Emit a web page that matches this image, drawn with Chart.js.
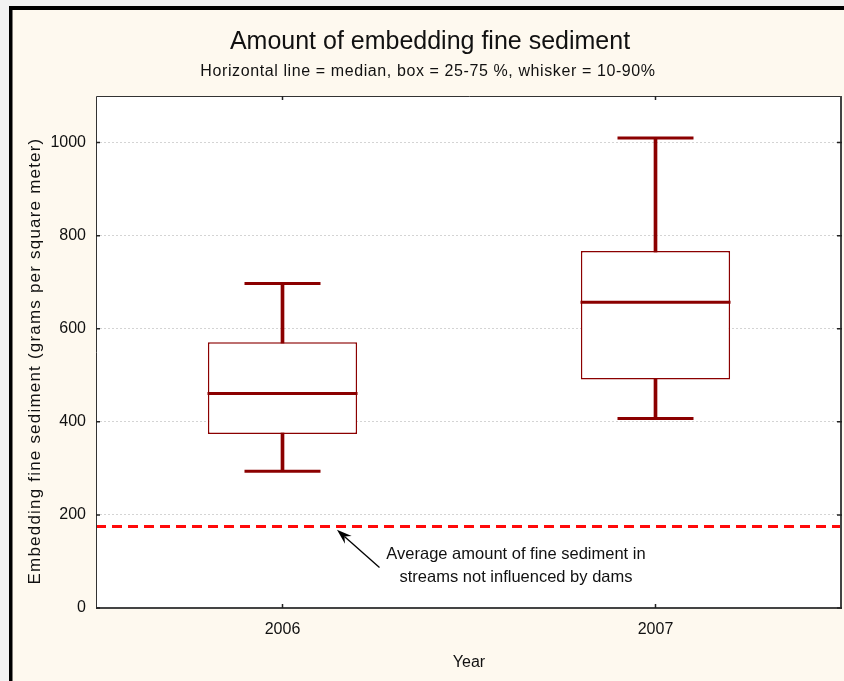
<!DOCTYPE html>
<html>
<head>
<meta charset="utf-8">
<script src="https://cdn.jsdelivr.net/npm/chart.js@4.4.1/dist/chart.umd.min.js"></script>
<style>
  html, body { margin: 0; padding: 0; background: #fff; }
  #wrap { width: 844px; height: 681px; }
</style>
</head>
<body>
<div id="wrap"><canvas id="chart" width="844" height="681"></canvas></div>
<script>
// box plot values
const years = ["2006", "2007"];
const p10 = [294, 407];
const q25 = [374, 491];
const median = [461, 657];
const q75 = [571, 767];
const p90 = [697, 1010];
const referenceLevel = 175;

const yTicks = [0, 200, 400, 600, 800, 1000];
const yMax = 1100;

const titleText = "Amount of embedding fine sediment";
const subtitleText = "Horizontal line = median, box = 25-75 %, whisker = 10-90%";
const yTitle = "Embedding fine sediment (grams per square meter)";
const xTitle = "Year";
const noteLines = ["Average amount of fine sediment in", "streams not influenced by dams"];

// annotation placement on hidden 0..1 x axis and value y axis
const noteAt = { x: 0.563, y: [114, 66] };
const arrowFrom = { x: 0.380, y: 87 };
const arrowTo = { x: 0.323, y: 168 };

const darkRed = "#8b0000";
const font = "'Liberation Sans', Arial, sans-serif";

Chart.defaults.font.family = font;
Chart.defaults.color = "#111";

const framePlugin = {
    id: "frame",
    beforeDraw(chart) {
        const ctx = chart.ctx, a = chart.chartArea;
        ctx.save();
        ctx.fillStyle = "#f2f2f2";
        ctx.fillRect(0, 0, chart.width, chart.height);
        ctx.fillStyle = "#fef9ef";
        ctx.fillRect(9, 6, chart.width - 9, chart.height - 6);
        ctx.fillStyle = "#000";
        ctx.fillRect(9, 6, chart.width - 9, 4);
        ctx.fillRect(9, 6, 3.5, chart.height - 6);
        ctx.fillStyle = "#fff";
        ctx.fillRect(a.left, a.top, a.right - a.left, a.bottom - a.top);
        ctx.restore();
    },
    afterDraw(chart) {
        const ctx = chart.ctx, a = chart.chartArea;
        const x = chart.scales.x, y = chart.scales.y, x2 = chart.scales.x2;
        ctx.save();

        // plot frame
        ctx.strokeStyle = "#333";
        ctx.lineWidth = 1;
        ctx.beginPath();
        ctx.moveTo(a.left + 0.5, a.bottom);
        ctx.lineTo(a.left + 0.5, a.top + 0.5);
        ctx.lineTo(a.right, a.top + 0.5);
        ctx.stroke();
        ctx.strokeStyle = "#444";
        ctx.lineWidth = 2;
        ctx.beginPath();
        ctx.moveTo(a.left, a.bottom);
        ctx.lineTo(a.right - 1, a.bottom);
        ctx.lineTo(a.right - 1, a.top);
        ctx.stroke();

        // inward ticks
        ctx.strokeStyle = "#222";
        ctx.lineWidth = 1.5;
        ctx.beginPath();
        yTicks.forEach(v => {
            const py = y.getPixelForValue(v);
            ctx.moveTo(a.left, py); ctx.lineTo(a.left + 4, py);
            ctx.moveTo(a.right - 5, py); ctx.lineTo(a.right, py);
        });
        years.forEach((c, i) => {
            const px = x.getPixelForValue(i);
            ctx.moveTo(px, a.bottom); ctx.lineTo(px, a.bottom - 4);
            ctx.moveTo(px, a.top); ctx.lineTo(px, a.top + 4);
        });
        ctx.stroke();

        // arrow
        const fx = x2.getPixelForValue(arrowFrom.x), fy = y.getPixelForValue(arrowFrom.y);
        const tx = x2.getPixelForValue(arrowTo.x), ty = y.getPixelForValue(arrowTo.y);
        const ang = Math.atan2(ty - fy, tx - fx);
        ctx.strokeStyle = "#000";
        ctx.fillStyle = "#000";
        ctx.lineWidth = 1.3;
        ctx.beginPath();
        ctx.moveTo(fx, fy);
        ctx.lineTo(tx - 10 * Math.cos(ang), ty - 10 * Math.sin(ang));
        ctx.stroke();
        ctx.beginPath();
        ctx.moveTo(tx, ty);
        ctx.lineTo(tx - 16 * Math.cos(ang - 0.32), ty - 16 * Math.sin(ang - 0.32));
        ctx.lineTo(tx - 10 * Math.cos(ang), ty - 10 * Math.sin(ang));
        ctx.lineTo(tx - 16 * Math.cos(ang + 0.32), ty - 16 * Math.sin(ang + 0.32));
        ctx.closePath();
        ctx.fill();

        // texts
        ctx.fillStyle = "#111";
        ctx.textAlign = "center";
        ctx.textBaseline = "middle";
        ctx.font = "16.5px " + font;
        noteLines.forEach((t, i) => {
            ctx.fillText(t, x2.getPixelForValue(noteAt.x), y.getPixelForValue(noteAt.y[i]));
        });

        ctx.font = "25px " + font;
        ctx.fillText(titleText, 430, 42);
        ctx.font = "16px " + font;
        ctx.letterSpacing = "0.6px";
        ctx.fillText(subtitleText, 428, 72);
        ctx.letterSpacing = "0px";

        ctx.fillText(xTitle, (a.left + a.right) / 2, 663);
        ctx.translate(35, 361);
        ctx.rotate(-Math.PI / 2);
        ctx.font = "17px " + font;
        ctx.letterSpacing = "1.2px";
        ctx.fillText(yTitle, 0, 0);

        ctx.restore();
    }
};

const chart = new Chart(document.getElementById("chart"), {
    type: "bar",
    data: {
        labels: years,
        datasets: [
            {
                label: "whisker",
                data: years.map((c, i) => [p10[i], p90[i]]),
                backgroundColor: darkRed,
                barThickness: 3,
                grouped: false,
                order: 5
            },
            {
                label: "box",
                data: years.map((c, i) => [q25[i], q75[i]]),
                backgroundColor: "#fff",
                borderColor: darkRed,
                borderWidth: 1.5,
                borderSkipped: false,
                barPercentage: 0.4,
                categoryPercentage: 1,
                grouped: false,
                order: 4
            },
            {
                type: "line",
                label: "median",
                data: median,
                showLine: false,
                pointStyle: "line",
                pointRadius: 75,
                pointBorderWidth: 3,
                pointBorderColor: darkRed,
                order: 2
            },
            {
                type: "line",
                label: "upper",
                data: p90,
                showLine: false,
                pointStyle: "line",
                pointRadius: 38,
                pointBorderWidth: 3,
                pointBorderColor: darkRed,
                order: 2
            },
            {
                type: "line",
                label: "lower",
                data: p10,
                showLine: false,
                pointStyle: "line",
                pointRadius: 38,
                pointBorderWidth: 3,
                pointBorderColor: darkRed,
                order: 2
            },
            {
                type: "line",
                label: "reference",
                xAxisID: "x2",
                data: [{ x: 0, y: referenceLevel }, { x: 1, y: referenceLevel }],
                borderColor: "#ff0a0a",
                borderWidth: 3,
                borderDash: [10, 6],
                pointRadius: 0,
                order: 1
            }
        ]
    },
    options: {
        responsive: false,
        animation: false,
        events: [],
        layout: { autoPadding: false, padding: { left: 0, top: 96, right: 2, bottom: 0 } },
        plugins: { legend: { display: false }, tooltip: { enabled: false } },
        scales: {
            x: {
                offset: true,
                grid: { display: false, drawTicks: false },
                border: { display: false },
                ticks: { font: { size: 16 }, padding: 12, color: "#111" },
                afterFit(s) { s.height = 73; }
            },
            x2: { type: "linear", min: 0, max: 1, offset: false, display: false },
            y: {
                min: 0,
                max: yMax,
                afterBuildTicks(s) { s.ticks = yTicks.map(v => ({ value: v })); },
                grid: {
                    drawTicks: false,
                    color: ctx => ctx.tick && ctx.tick.value > 0 ? "#d4d4d4" : "rgba(0,0,0,0)",
                    lineWidth: 1
                },
                border: { display: false, dash: [2, 2] },
                ticks: { font: { size: 16 }, padding: 10, color: "#111", callback: v => String(v) },
                afterFit(s) { s.width = 96; }
            }
        }
    },
    plugins: [framePlugin]
});
</script>
</body>
</html>
